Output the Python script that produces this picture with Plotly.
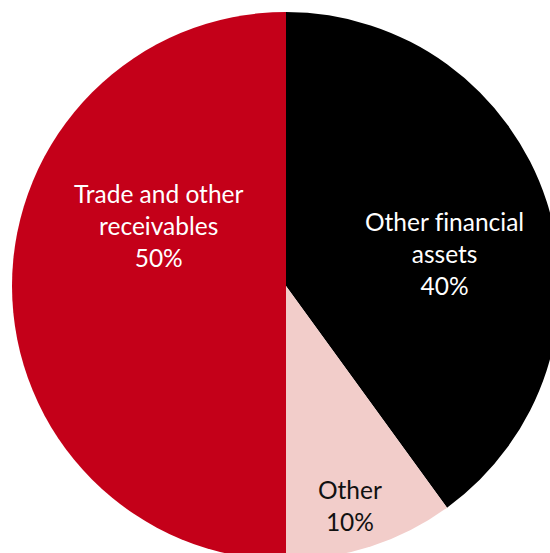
import plotly.graph_objects as go

labels = ["Other financial assets", "Other", "Trade and other receivables"]
display_labels = ["Other f\u200cinancial<br>assets", "Other", "Trade and other<br>receivables"]
values = [40, 10, 50]
colors = ["#000000", "#F2CDCA", "#C40019"]
text_colors = ["#FFFFFF", "#111111", "#FFFFFF"]

# layout constants (pixels)
W, H = 560, 560
off = 12
CX, CY, R = 286, 286, 274
# label offsets relative to pie centre, as fractions of radius (x right, y up)
label_offsets = [(0.577, 0.117), (0.234, -0.80), (-0.467, 0.219)]

fig = go.Figure(go.Pie(
    labels=labels,
    values=values,
    sort=False,
    direction="clockwise",
    rotation=0,
    marker=dict(colors=colors, line=dict(width=0)),
    textinfo="none",
    hoverinfo="label+percent",
    domain=dict(x=[off / W, 1], y=[0, 1 - off / H]),
    showlegend=False,
))

total = sum(values)
for lab, v, col, (fx, fy) in zip(display_labels, values, text_colors, label_offsets):
    pct = round(100 * v / total)
    fig.add_annotation(
        x=(CX + fx * R) / W,
        y=(H - CY + fy * R) / H,
        xref="paper", yref="paper",
        text=f"{lab}<br>{pct}%",
        showarrow=False,
        align="center",
        xanchor="center", yanchor="middle",
        font=dict(family="Lato", size=24.5, color=col),
    )

fig.update_layout(
    width=W, height=H,
    margin=dict(l=0, r=0, t=0, b=0),
    paper_bgcolor="white",
    plot_bgcolor="white",
)

fig.write_html("out.html", post_script="document.documentElement.style.overflow='hidden';document.body.style.overflow='hidden';document.body.style.margin='0';")
